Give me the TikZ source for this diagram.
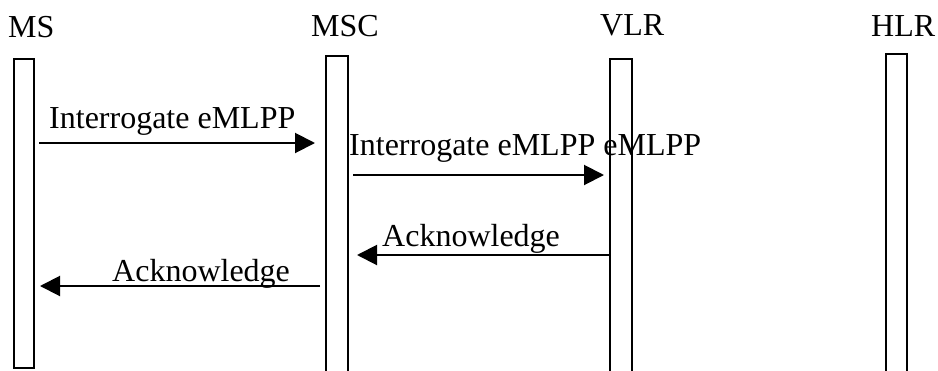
\documentclass[tikz,border=0pt]{standalone}
\usepackage{fontspec}
\setmainfont{Liberation Serif}
\usetikzlibrary{arrows.meta}
\begin{document}
\begin{tikzpicture}[x=1pt,y=-1pt,
  bar/.style={draw,line width=2pt,inner sep=0pt,anchor=north west,minimum height=#1},
  lbl/.style={anchor=base west,inner sep=0pt,font=\fontsize{32}{38}\selectfont},
  msg/.style={line width=2pt,-{Triangle[length=20pt,width=20pt]}}]
\useasboundingbox (0,0) rectangle (938,370);
\clip (0,0) rectangle (938,370);
% lifelines
\node[bar=309pt,minimum width=20pt] (msbar) at (13,58) {};
\node[bar=340pt,minimum width=22pt] (mscbar) at (325,55) {};
\node[bar=340pt,minimum width=22pt] (vlrbar) at (609,58) {};
\node[bar=340pt,minimum width=21pt] (hlrbar) at (885,53) {};
% titles
\node[lbl] (ms) at (8,37) {MS};
\node[lbl] (msc) at (311,36) {MSC};
\node[lbl] (vlr) at (600,35) {VLR};
\node[lbl] (hlr) at (871,36) {HLR};
% message rows
\coordinate (r1) at (0,143);
\coordinate (r2) at (0,175);
\coordinate (r3) at (0,255);
\coordinate (r4) at (0,286);
% messages
\draw[msg] ([xshift=4pt]msbar.east |- r1) -- ([xshift=-10pt]mscbar.west |- r1);
\node[lbl] (l1) at (49,128) {Interrogate eMLPP};
\draw[msg] ([xshift=4pt]mscbar.east |- r2) -- ([xshift=-5pt]vlrbar.west |- r2);
\node[lbl] (l2) at (349,155) {Interrogate eMLPP eMLPP};
\draw[msg] (vlrbar.west |- r3) -- ([xshift=8pt]mscbar.east |- r3);
\node[lbl] (l3) at (382,246) {Acknowledge};
\draw[msg] ([xshift=-5pt]mscbar.west |- r4) -- ([xshift=5pt]msbar.east |- r4);
\node[lbl] (l4) at (112,281) {Acknowledge};
\end{tikzpicture}
\end{document}
